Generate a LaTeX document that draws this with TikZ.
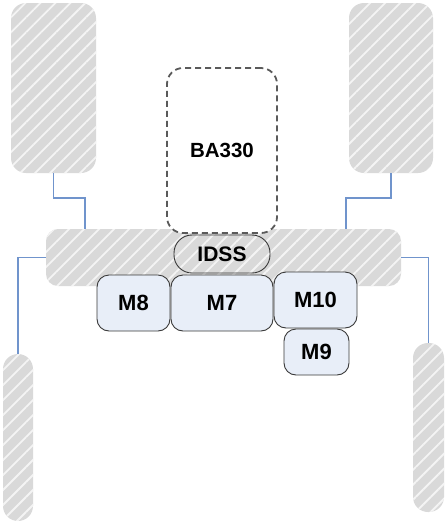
\documentclass[tikz,border=0pt]{standalone}
\usepackage{fontspec}
\setmainfont{Liberation Sans}
\usetikzlibrary{patterns.meta}
\definecolor{hatchgray}{HTML}{D9D9D9}
\definecolor{stripe}{HTML}{F4F4F4}
\definecolor{linkblue}{HTML}{7094CC}
\definecolor{modfill}{HTML}{E8EEF8}
\definecolor{modline}{HTML}{3A3A3A}
\definecolor{dashgray}{HTML}{5A5A5A}
\tikzset{
  hatched/.style={draw=none, fill=hatchgray, inner sep=0pt,
    postaction={pattern={Lines[angle=45,distance=10.6pt,line width=1.8pt]}, pattern color=stripe}},
  link/.style={draw=linkblue, line width=1.1pt},
  modbox/.style={draw=modline, fill=modfill, line width=0.9pt, rounded corners=12pt,
    inner sep=0pt, font=\fontsize{22}{26}\selectfont\bfseries},
  dashbox/.style={draw=dashgray, fill=white, line width=1.8pt, dash pattern=on 6pt off 4pt,
    rounded corners=16pt, inner sep=0pt, font=\fontsize{20.5}{24}\selectfont\bfseries},
  pillbox/.style={draw=modline, line width=0.9pt, rounded corners=18pt, inner sep=0pt,
    font=\fontsize{21}{25}\selectfont\bfseries}
}
\begin{document}
\begin{tikzpicture}[x=1pt, y=-1pt]
\useasboundingbox (0,0) rectangle (447,523);
% outer hatched shapes
\node[hatched, rounded corners=15pt, minimum width=85pt, minimum height=170pt] (tl) at (53.5,88) {};
\node[hatched, rounded corners=15pt, minimum width=84pt, minimum height=170pt] (tr) at (391,88) {};
\node[hatched, rounded corners=15pt, minimum width=30pt, minimum height=167pt] (wl) at (18,437.5) {};
\node[hatched, rounded corners=15pt, minimum width=31pt, minimum height=169pt] (wr) at (428.5,427.5) {};
\node[hatched, rounded corners=12pt, minimum width=355pt, minimum height=57pt] (bar) at (223.5,257.5) {};
% connectors
\coordinate (j1) at (85,198);
\coordinate (j2) at (346,198);
\draw[link] (tl.south) |- (j1) -- (j1 |- bar.north);
\draw[link] (tr.south) |- (j2) -- (j2 |- bar.north);
\draw[link] (bar.west) -| (wl.north);
\draw[link] (bar.east) -| (wr.north);
% inner boxes
\node[dashbox, minimum width=110pt, minimum height=165pt] (ba) at (222,150.5) {BA330};
\node[pillbox, minimum width=96pt, minimum height=38pt] (idss) at (222,254) {IDSS};
\node[modbox, minimum width=73pt, minimum height=56pt] (m8) at (133.5,303) {M8};
\node[modbox, minimum width=102pt, minimum height=56pt] (m7) at (222,303) {M7};
\node[modbox, minimum width=83pt, minimum height=56pt] (m10) at (315.5,300) {M10};
\node[modbox, minimum width=65pt, minimum height=46pt] (m9) at (316.5,352) {M9};
\end{tikzpicture}
\end{document}
